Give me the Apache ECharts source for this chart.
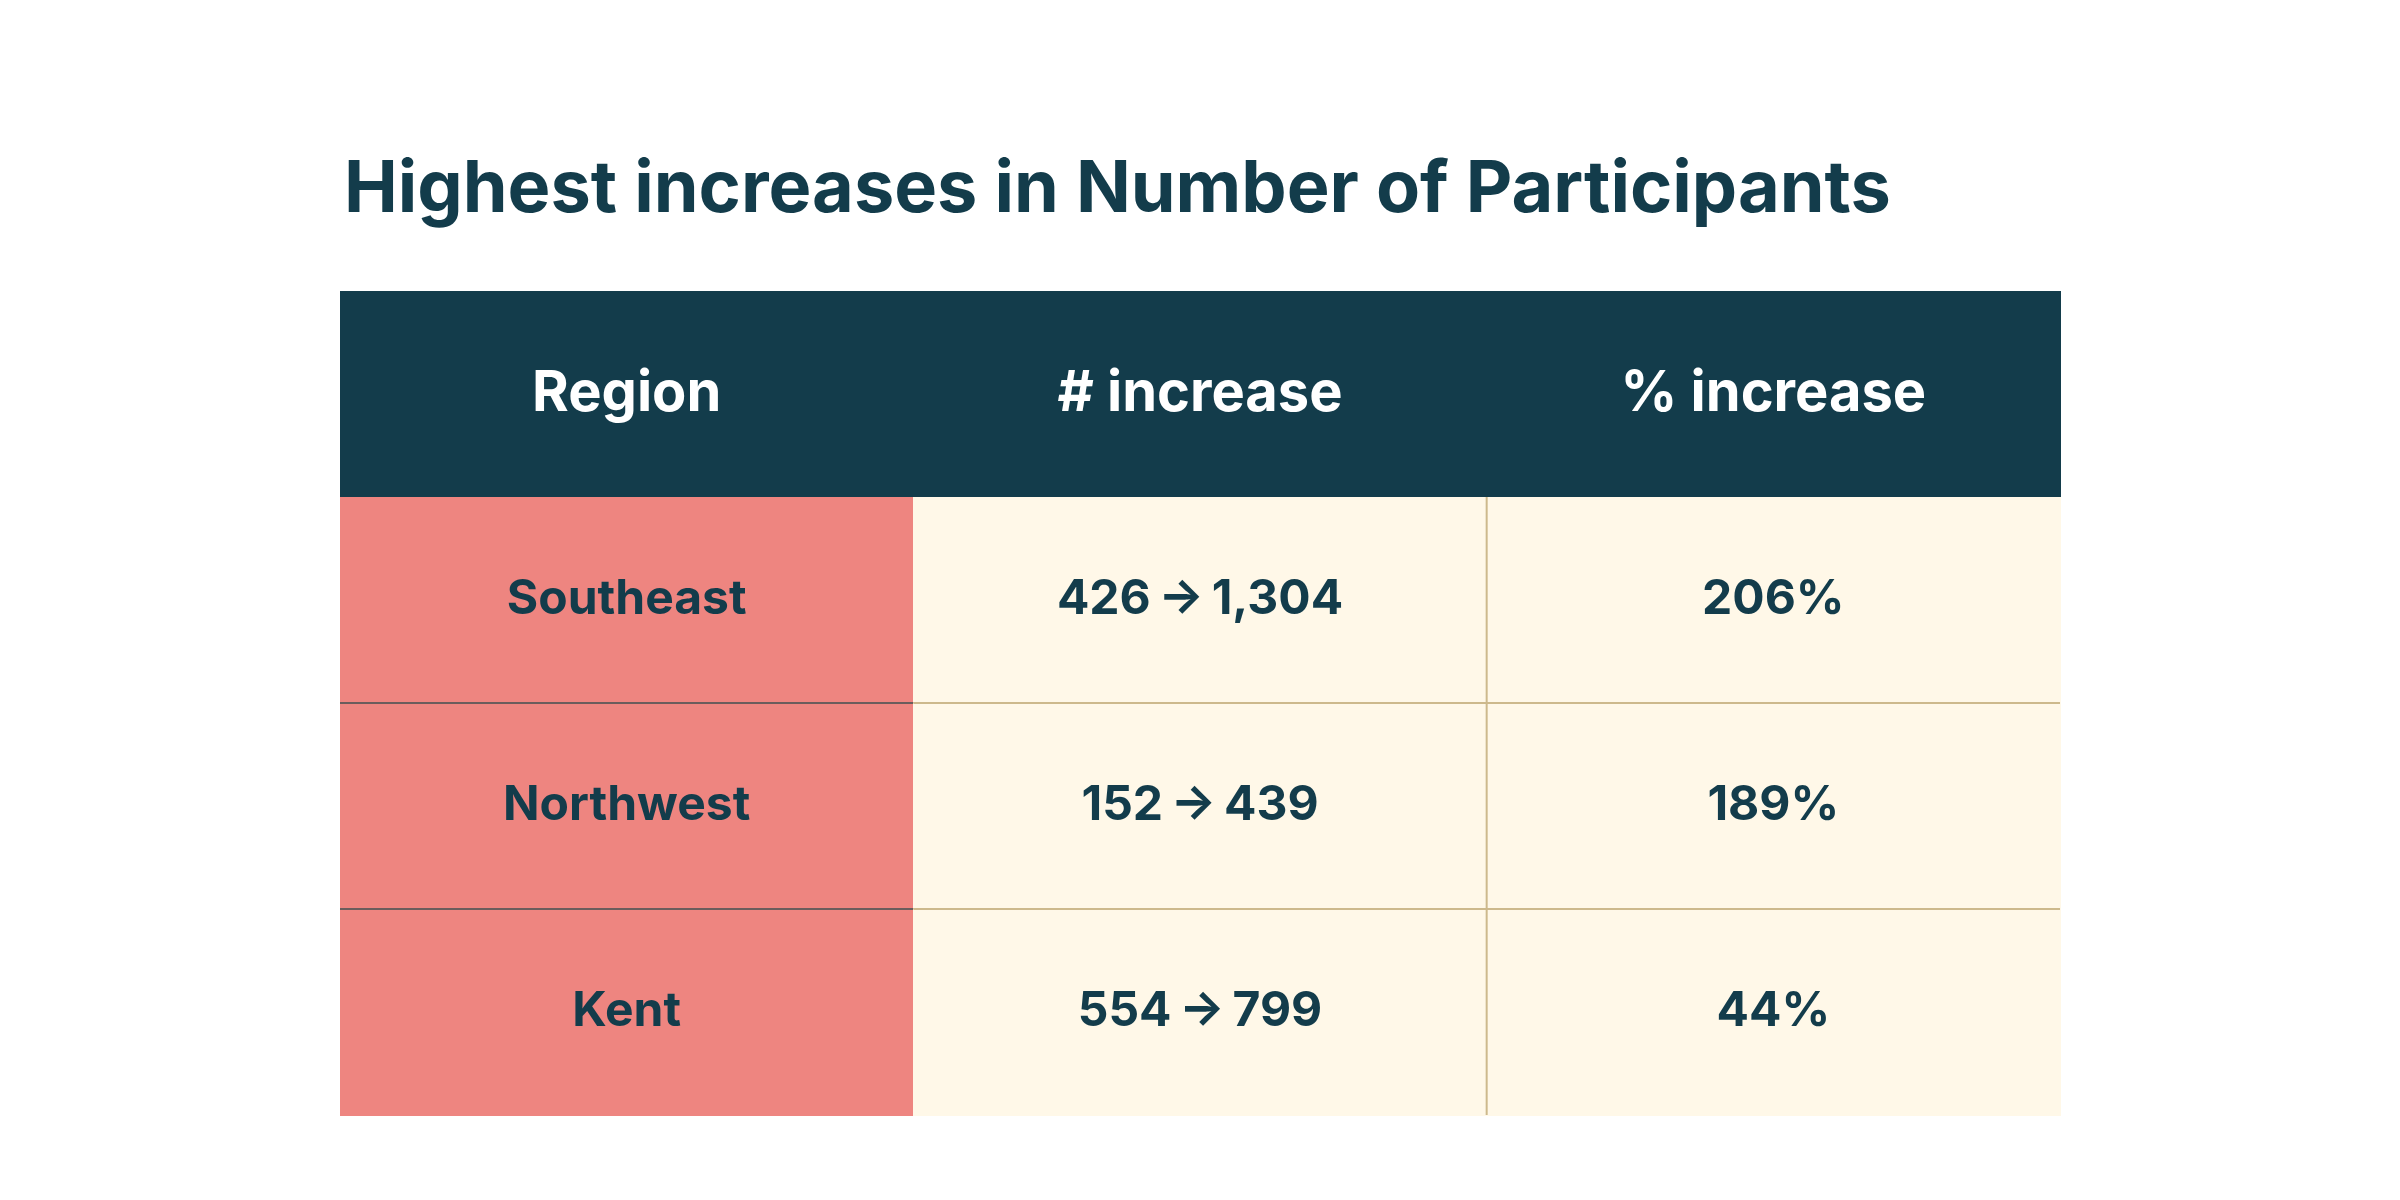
<!DOCTYPE html>
<html>
<head>
<meta charset="utf-8">
<script src="https://cdn.jsdelivr.net/npm/echarts@6/dist/echarts.min.js"></script>
<style>
  html, body { margin: 0; padding: 0; background: #ffffff; }
  #chart { width: 2400px; height: 1200px; }
</style>
</head>
<body>
<div id="chart"></div>
<script>
// table values
const columns = ['Region', '# increase', '% increase'];
const regions = ['Southeast', 'Northwest', 'Kent'];
const before = [426, 152, 554];
const after = [1304, 439, 799];
const pctIncrease = [206, 189, 44];

const FONT = 'Inter, "Noto Sans", sans-serif';
const DARK = '#133c4b';

// rows: header + one per region
const rowNames = ['header'].concat(regions);
const fmt = (n) => n.toLocaleString('en-US');

let cells = [];
columns.forEach((c, ci) => {
  cells.push([ci, 0, c, 'head']);
});
regions.forEach((r, ri) => {
  cells.push([0, ri + 1, r, 'region']);
  cells.push([1, ri + 1, fmt(before[ri]) + '\u2009\u2192\u2009' + fmt(after[ri]), 'body']);
  cells.push([2, ri + 1, pctIncrease[ri] + '%', 'body']);
});

function renderCell(params, api) {
  let col = api.value(0), row = api.value(1);
  let d = cells[params.dataIndex];
  let center = api.coord([col, row]);
  let size = api.size([1, 1]);
  let w = size[0], h = size[1];
  let x = center[0] - w / 2, y = center[1] - h / 2;
  let kind = d[3];
  let fill = kind === 'head' ? DARK : (kind === 'region' ? '#ee8580' : '#fff8e8');
  let x0 = Math.floor(x), y0 = Math.floor(y);
  let children = [{
    type: 'rect',
    shape: { x: x0, y: y0, width: Math.ceil(x + w) - x0 + 1, height: Math.ceil(y + h) - y0 + 1 },
    style: { fill: fill }
  }];
  // grid lines inside the body
  if (row > 1) {
    children.push({
      type: 'line',
      shape: { x1: x, y1: y, x2: x + w, y2: y },
      style: { stroke: col === 0 ? '#6b5c5c' : '#cdb98c', lineWidth: 2 }
    });
  }
  if (row > 0 && col === 2) {
    children.push({
      type: 'line',
      shape: { x1: x, y1: y, x2: x, y2: y + h },
      style: { stroke: '#cdb98c', lineWidth: 2 }
    });
  }
  children.push({
    type: 'text',
    style: {
      text: d[2],
      x: center[0],
      y: center[1],
      align: 'center',
      verticalAlign: 'middle',
      fill: kind === 'head' ? '#ffffff' : DARK,
      font: '700 ' + (kind === 'head' ? 56 : 48) + 'px ' + FONT
    }
  });
  return { type: 'group', children: children };
}

let chart = echarts.init(document.getElementById('chart'));
let option = {
  backgroundColor: '#ffffff',
  animation: false,
  title: {
    text: 'Highest increases in Number of Participants',
    left: 339,
    top: 149,
    textStyle: { fontFamily: FONT, fontWeight: 700, fontSize: 72, color: DARK }
  },
  grid: { left: 340, top: 291, width: 1720, height: 824 },
  xAxis: {
    type: 'category',
    data: columns,
    show: false
  },
  yAxis: {
    type: 'category',
    data: rowNames,
    inverse: true,
    show: false
  },
  series: [{
    type: 'custom',
    renderItem: renderCell,
    encode: { x: 0, y: 1 },
    data: cells.map(c => [c[0], c[1]])
  }]
};
chart.setOption(option);
</script>
</body>
</html>
